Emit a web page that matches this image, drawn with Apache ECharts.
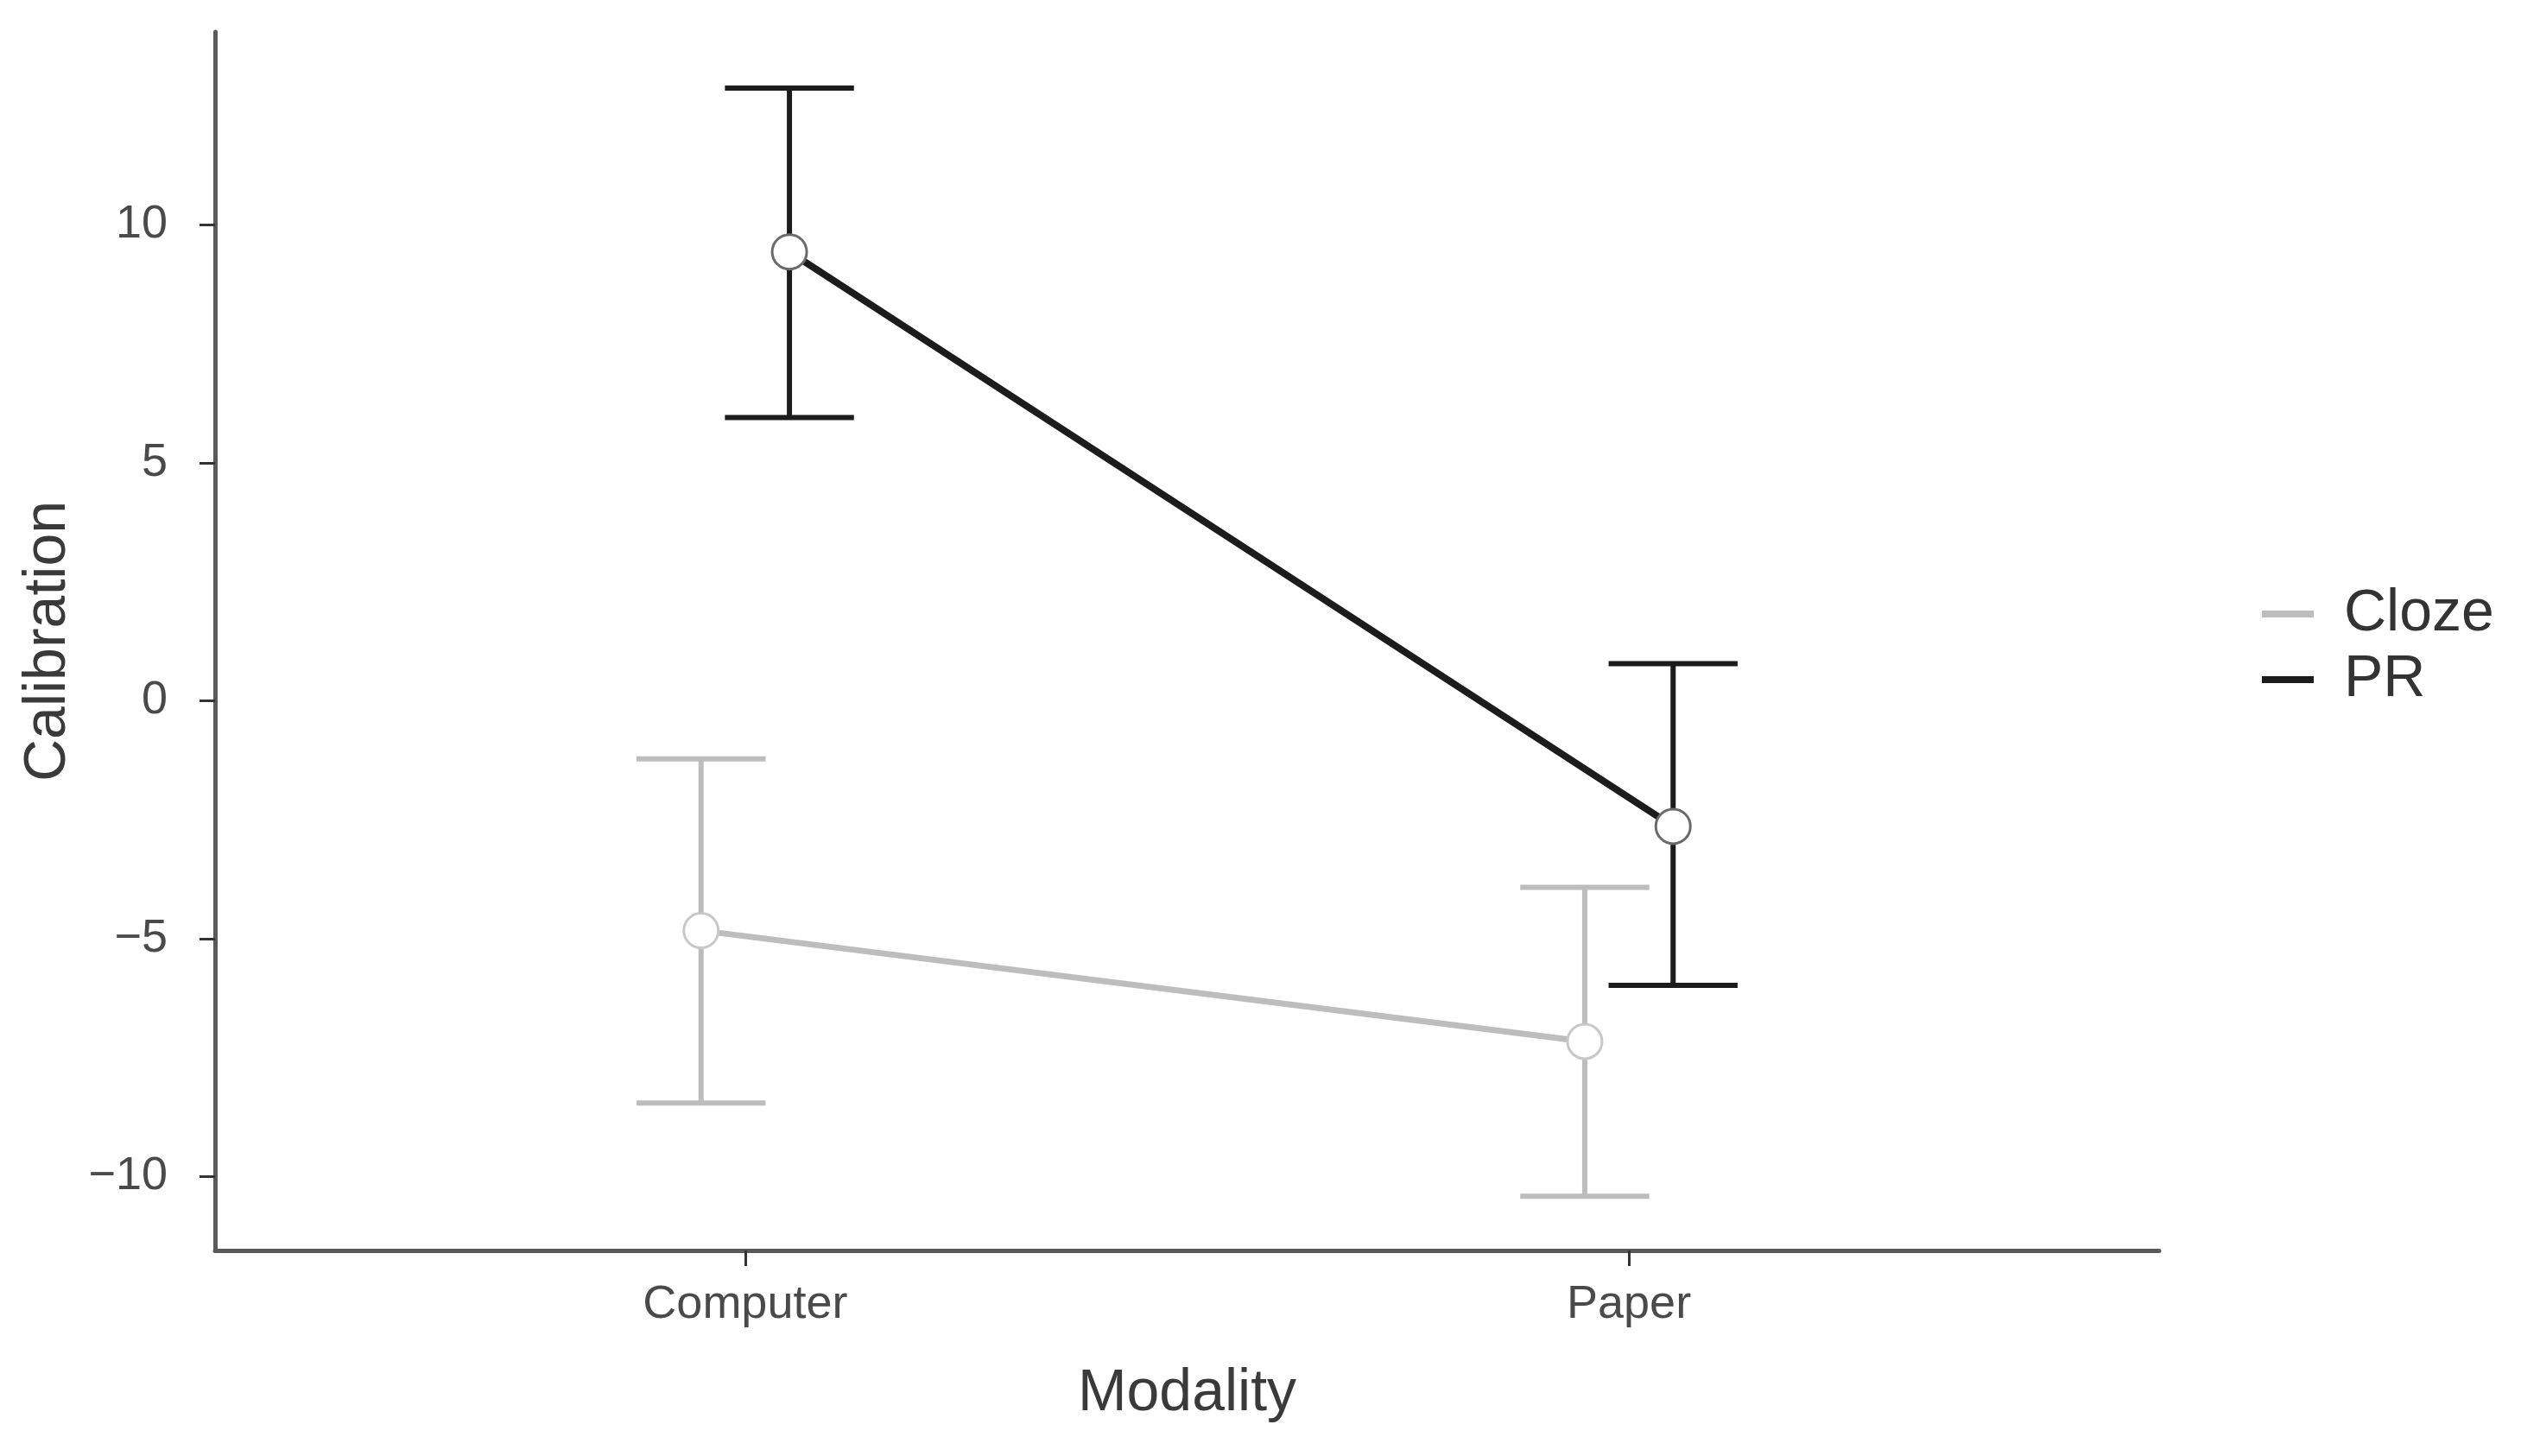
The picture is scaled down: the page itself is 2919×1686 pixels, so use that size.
<!DOCTYPE html>
<html>
<head>
<meta charset="utf-8">
<script src="https://cdn.jsdelivr.net/npm/echarts@6/dist/echarts.min.js"></script>
<style>
  html, body { margin: 0; padding: 0; background: #fff; }
  #chart { width: 2919px; height: 1686px; }
</style>
</head>
<body>
<div id="chart"></div>
<script>
// categories on a discrete scale: 1 = Computer, 2 = Paper
var categories = ['Computer', 'Paper'];
var catPos = [1, 2];
var groups = ['Cloze', 'PR'];
var dodge = [-0.05, 0.05];

// means and confidence limits
var clozeMean = [-4.83, -7.16];
var clozeLow = [-8.45, -10.41];
var clozeHigh = [-1.22, -3.92];

var prMean = [9.43, -2.64];
var prLow = [5.95, -5.98];
var prHigh = [12.87, 0.78];

var yTicks = [-10, -5, 0, 5, 10];

var groupColors = ['#bdbdbd', '#1c1c1c'];
var pointBorders = ['#c8c8c8', '#6a6a6a'];
var capHalf = 0.073;

function points(mean, k) {
    return catPos.map(function (c, i) { return [c + dodge[k], mean[i]]; });
}
function bars(low, high, k) {
    return catPos.map(function (c, i) { return [c + dodge[k], low[i], high[i]]; });
}

function errorBar(color) {
    return function (params, api) {
        var x = api.value(0);
        var lo = api.coord([x, api.value(1)]);
        var hi = api.coord([x, api.value(2)]);
        var loL = api.coord([x - capHalf, api.value(1)]);
        var loR = api.coord([x + capHalf, api.value(1)]);
        var hiL = api.coord([x - capHalf, api.value(2)]);
        var hiR = api.coord([x + capHalf, api.value(2)]);
        var st = { stroke: color, lineWidth: 6, lineCap: 'butt' };
        return {
            type: 'group',
            children: [
                { type: 'line', shape: { x1: lo[0], y1: lo[1], x2: hi[0], y2: hi[1] }, style: st },
                { type: 'line', shape: { x1: loL[0], y1: loL[1], x2: loR[0], y2: loR[1] }, style: st },
                { type: 'line', shape: { x1: hiL[0], y1: hiL[1], x2: hiR[0], y2: hiR[1] }, style: st }
            ]
        };
    };
}

var chart = echarts.init(document.getElementById('chart'));
var textCol = '#4a4a4a';

var option = {
    animation: false,
    backgroundColor: '#fff',
    grid: { left: 249, right: 419, top: 37, bottom: 238 },
    legend: {
        orient: 'vertical',
        left: 2614,
        top: 672,
        icon: 'rect',
        itemWidth: 60,
        itemHeight: 8,
        itemGap: 8,
        textStyle: { fontFamily: 'Liberation Sans', fontSize: 68, lineHeight: 68, color: '#333', padding: [0, 0, 0, 30] },
        data: [
            { name: 'Cloze', itemStyle: { color: groupColors[0], borderWidth: 0 } },
            { name: 'PR', itemStyle: { color: groupColors[1], borderWidth: 0 } }
        ]
    },
    xAxis: {
        type: 'value',
        min: 0.4,
        max: 2.6,
        name: 'Modality',
        nameLocation: 'middle',
        nameGap: 132,
        nameTextStyle: { fontFamily: 'Liberation Sans', fontSize: 68, color: '#3a3a3a' },
        splitLine: { show: false },
        axisLine: { show: true, onZero: false, lineStyle: { color: '#5a5a5a', width: 5 } },
        axisTick: { show: true, customValues: catPos, length: 18, lineStyle: { color: '#333', width: 3 } },
        axisLabel: {
            customValues: catPos,
            margin: 36,
            fontFamily: 'Liberation Sans',
            fontSize: 54,
            color: textCol,
            formatter: function (v) { return categories[Math.round(v) - 1]; }
        }
    },
    yAxis: {
        type: 'value',
        min: -11.55,
        max: 14.05,
        name: 'Calibration',
        nameLocation: 'middle',
        nameGap: 159,
        nameTextStyle: { fontFamily: 'Liberation Sans', fontSize: 68, color: '#3a3a3a' },
        splitLine: { show: false },
        axisLine: { show: true, onZero: false, lineStyle: { color: '#5a5a5a', width: 5 } },
        axisTick: { show: true, customValues: yTicks, length: 18, lineStyle: { color: '#333', width: 3 } },
        axisLabel: {
            customValues: yTicks,
            margin: 55,
            fontFamily: 'Liberation Sans',
            fontSize: 54,
            color: textCol,
            formatter: function (v) { return v < 0 ? '\u2212' + Math.abs(v) : String(v); }
        }
    },
    series: [
        {
            type: 'custom',
            name: 'Cloze',
            renderItem: errorBar(groupColors[0]),
            data: bars(clozeLow, clozeHigh, 0),
            encode: { x: 0, y: [1, 2] },
            z: 2
        },
        {
            type: 'custom',
            name: 'PR',
            renderItem: errorBar(groupColors[1]),
            data: bars(prLow, prHigh, 1),
            encode: { x: 0, y: [1, 2] },
            z: 2
        },
        {
            type: 'line',
            name: 'Cloze',
            data: points(clozeMean, 0),
            lineStyle: { color: groupColors[0], width: 7 },
            symbol: 'circle',
            symbolSize: 40,
            itemStyle: { color: '#fff', borderColor: pointBorders[0], borderWidth: 3 },
            z: 3
        },
        {
            type: 'line',
            name: 'PR',
            data: points(prMean, 1),
            lineStyle: { color: groupColors[1], width: 8 },
            symbol: 'circle',
            symbolSize: 40,
            itemStyle: { color: '#fff', borderColor: pointBorders[1], borderWidth: 3 },
            z: 4
        }
    ]
};

chart.setOption(option);
</script>
</body>
</html>
